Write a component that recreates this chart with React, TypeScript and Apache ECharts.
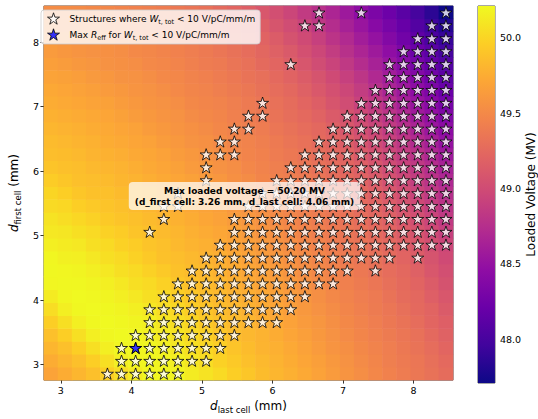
import React, { useEffect, useRef } from "react";
import * as echarts from "echarts";

// cell centres (mm)
const dLastCells = [2.86, 3.06, 3.26, 3.46, 3.66, 3.86, 4.06, 4.26, 4.46, 4.66, 4.86, 5.06, 5.26, 5.46, 5.66, 5.86, 6.06, 6.26, 6.46, 6.66, 6.86, 7.06, 7.26, 7.46, 7.66, 7.86, 8.06, 8.26, 8.46];
const dFirstCells = [2.86, 3.06, 3.26, 3.46, 3.66, 3.86, 4.06, 4.26, 4.46, 4.66, 4.86, 5.06, 5.26, 5.46, 5.66, 5.86, 6.06, 6.26, 6.46, 6.66, 6.86, 7.06, 7.26, 7.46, 7.66, 7.86, 8.06, 8.26, 8.46];

// loaded voltage (MV): one row per d_first cell (bottom to top), one column per d_last cell
const voltage: number[][] = [
  [49.69,49.75,49.81,49.87,49.96,50.05,50.13,50.19,50.19,50.18,50.13,50.08,50.03,49.96,49.91,49.85,49.81,49.77,49.73,49.68,49.63,49.58,49.53,49.48,49.44,49.40,49.36,49.32,49.27],
  [49.75,49.81,49.87,49.96,50.06,50.15,50.19,50.19,50.18,50.15,50.10,50.05,49.98,49.93,49.87,49.83,49.79,49.75,49.70,49.66,49.61,49.56,49.51,49.47,49.42,49.38,49.35,49.30,49.25],
  [49.81,49.87,49.96,50.06,50.15,50.19,50.20,50.19,50.16,50.11,50.06,50.01,49.96,49.90,49.85,49.80,49.77,49.73,49.68,49.63,49.58,49.54,49.49,49.45,49.41,49.37,49.33,49.28,49.22],
  [49.87,49.96,50.06,50.15,50.20,50.21,50.19,50.16,50.13,50.08,50.03,49.98,49.91,49.86,49.82,49.79,49.75,49.70,49.66,49.61,49.56,49.51,49.47,49.43,49.39,49.35,49.31,49.25,49.19],
  [49.96,50.06,50.15,50.20,50.21,50.20,50.18,50.15,50.10,50.05,50.00,49.93,49.88,49.84,49.81,49.76,49.72,49.68,49.63,49.59,49.54,49.49,49.45,49.41,49.37,49.33,49.28,49.22,49.17],
  [50.05,50.15,50.20,50.21,50.20,50.18,50.15,50.11,50.05,50.01,49.95,49.90,49.85,49.82,49.78,49.74,49.70,49.65,49.61,49.56,49.52,49.47,49.43,49.39,49.35,49.30,49.25,49.21,49.13],
  [50.13,50.19,50.21,50.20,50.18,50.15,50.11,50.06,50.03,49.96,49.91,49.86,49.83,49.79,49.76,49.72,49.67,49.63,49.59,49.54,49.49,49.45,49.41,49.38,49.33,49.27,49.24,49.17,49.10],
  [50.19,50.20,50.20,50.18,50.15,50.11,50.06,50.03,49.98,49.91,49.87,49.84,49.81,49.77,49.73,49.69,49.65,49.61,49.56,49.51,49.47,49.43,49.39,49.35,49.30,49.26,49.21,49.14,49.06],
  [50.20,50.19,50.18,50.15,50.11,50.06,50.03,49.98,49.93,49.88,49.85,49.82,49.78,49.74,49.71,49.67,49.63,49.58,49.53,49.49,49.45,49.41,49.37,49.32,49.28,49.24,49.18,49.10,49.03],
  [50.19,50.16,50.15,50.11,50.06,50.03,49.98,49.93,49.88,49.86,49.83,49.79,49.76,49.72,49.68,49.64,49.60,49.55,49.51,49.47,49.43,49.38,49.34,49.31,49.26,49.21,49.14,49.07,48.99],
  [50.15,50.13,50.11,50.06,50.03,49.98,49.95,49.90,49.87,49.83,49.80,49.77,49.73,49.69,49.66,49.62,49.57,49.53,49.48,49.45,49.40,49.36,49.33,49.28,49.24,49.18,49.11,49.03,48.95],
  [50.11,50.10,50.06,50.03,49.98,49.95,49.90,49.87,49.84,49.81,49.77,49.74,49.71,49.67,49.63,49.58,49.55,49.50,49.46,49.42,49.38,49.35,49.31,49.26,49.21,49.14,49.07,48.99,48.90],
  [50.08,50.05,50.01,49.98,49.93,49.90,49.87,49.84,49.81,49.78,49.75,49.71,49.68,49.64,49.60,49.56,49.51,49.47,49.44,49.40,49.36,49.33,49.28,49.23,49.18,49.10,49.03,48.94,48.85],
  [50.03,50.01,49.96,49.93,49.90,49.87,49.84,49.81,49.78,49.75,49.72,49.69,49.66,49.61,49.57,49.53,49.49,49.45,49.41,49.38,49.34,49.31,49.25,49.21,49.14,49.06,48.98,48.89,48.80],
  [50.00,49.96,49.91,49.88,49.87,49.84,49.81,49.79,49.76,49.73,49.70,49.66,49.62,49.59,49.54,49.50,49.46,49.42,49.40,49.36,49.32,49.27,49.23,49.17,49.10,49.02,48.93,48.84,48.75],
  [49.95,49.91,49.87,49.86,49.84,49.81,49.79,49.76,49.73,49.70,49.67,49.63,49.60,49.55,49.52,49.47,49.44,49.41,49.38,49.34,49.29,49.25,49.20,49.13,49.05,48.97,48.88,48.79,48.69],
  [49.90,49.87,49.86,49.83,49.81,49.79,49.76,49.73,49.70,49.67,49.63,49.60,49.56,49.53,49.48,49.45,49.42,49.39,49.35,49.31,49.27,49.22,49.17,49.09,49.00,48.92,48.84,48.74,48.64],
  [49.86,49.85,49.83,49.80,49.78,49.76,49.73,49.71,49.68,49.64,49.61,49.57,49.54,49.50,49.46,49.44,49.40,49.37,49.33,49.29,49.24,49.20,49.12,49.04,48.96,48.87,48.78,48.68,48.57],
  [49.84,49.82,49.80,49.78,49.75,49.73,49.70,49.68,49.64,49.61,49.57,49.55,49.51,49.47,49.45,49.42,49.38,49.34,49.31,49.26,49.21,49.15,49.07,48.99,48.91,48.82,48.72,48.62,48.50],
  [49.81,49.79,49.77,49.75,49.73,49.70,49.68,49.64,49.61,49.58,49.55,49.52,49.48,49.45,49.42,49.40,49.35,49.32,49.28,49.24,49.18,49.10,49.02,48.95,48.86,48.76,48.66,48.54,48.44],
  [49.78,49.76,49.74,49.72,49.70,49.67,49.64,49.61,49.58,49.56,49.52,49.49,49.47,49.43,49.40,49.37,49.33,49.29,49.25,49.20,49.13,49.06,48.98,48.89,48.80,48.70,48.58,48.48,48.36],
  [49.75,49.73,49.71,49.69,49.67,49.64,49.61,49.58,49.56,49.53,49.49,49.47,49.45,49.42,49.38,49.35,49.31,49.27,49.22,49.16,49.08,49.01,48.92,48.84,48.74,48.62,48.52,48.41,48.29],
  [49.72,49.70,49.68,49.66,49.63,49.61,49.58,49.56,49.53,49.50,49.47,49.45,49.42,49.39,49.36,49.32,49.28,49.24,49.18,49.11,49.04,48.96,48.87,48.77,48.66,48.56,48.45,48.34,48.21],
  [49.69,49.67,49.65,49.62,49.60,49.57,49.56,49.53,49.50,49.48,49.45,49.43,49.40,49.37,49.33,49.30,49.25,49.20,49.14,49.07,48.99,48.90,48.81,48.70,48.60,48.49,48.38,48.26,48.13],
  [49.66,49.64,49.61,49.59,49.56,49.55,49.53,49.50,49.48,49.46,49.43,49.40,49.38,49.34,49.31,49.26,49.22,49.16,49.09,49.01,48.93,48.84,48.74,48.64,48.53,48.42,48.30,48.18,48.07],
  [49.63,49.60,49.58,49.56,49.55,49.53,49.50,49.48,49.46,49.44,49.41,49.38,49.35,49.32,49.28,49.23,49.18,49.12,49.04,48.96,48.87,48.77,48.67,48.57,48.46,48.34,48.22,48.11,47.99],
  [49.59,49.57,49.55,49.54,49.52,49.50,49.48,49.46,49.44,49.41,49.39,49.36,49.33,49.28,49.24,49.20,49.14,49.06,48.99,48.90,48.80,48.71,48.60,48.50,48.38,48.26,48.15,48.03,47.91],
  [49.56,49.53,49.53,49.51,49.50,49.48,49.46,49.44,49.42,49.40,49.37,49.33,49.29,49.26,49.21,49.16,49.08,49.01,48.93,48.83,48.74,48.63,48.53,48.41,48.30,48.19,48.07,47.95,47.82],
  [49.52,49.52,49.51,49.49,49.48,49.46,49.44,49.42,49.40,49.37,49.34,49.31,49.26,49.22,49.17,49.10,49.03,48.95,48.86,48.77,48.67,48.56,48.45,48.33,48.23,48.11,47.99,47.86,47.71],
];

// structures with W_t,tot < 10 V/pC/mm/m: per d_first row, runs [firstCol, lastCol] of d_last column indices
const starRuns: number[][][] = [
  [[4, 9]],
  [[5, 11]],
  [[5, 12]],
  [[6, 13]],
  [[7, 16]],
  [[7, 17]],
  [[8, 18]],
  [[9, 20]],
  [[10, 21], [23, 23]],
  [[11, 24], [26, 26]],
  [[12, 28]],
  [[7, 7], [13, 28]],
  [[8, 8], [13, 28]],
  [[8, 9], [14, 28]],
  [[9, 9], [15, 28]],
  [[11, 11], [16, 28]],
  [[11, 11], [17, 28]],
  [[11, 13], [18, 28]],
  [[12, 13], [19, 28]],
  [[13, 14], [20, 28]],
  [[14, 15], [21, 28]],
  [[15, 15], [22, 28]],
  [[23, 28]],
  [[24, 28]],
  [[17, 17], [24, 28]],
  [[25, 28]],
  [[26, 28]],
  [[18, 19], [27, 28]],
  [[19, 19], [22, 22], [28, 28]],
];

// best structure (max R_eff among stars): [row (d_first), col (d_last)]
const bestCell = [2, 6];

const xTicks = [3, 4, 5, 6, 7, 8];
const yTicks = [3, 4, 5, 6, 7, 8];
const cbTicks = [48.0, 48.5, 49.0, 49.5, 50.0];

const PLASMA = ["#0d0887", "#41049d", "#6a00a8", "#8f0da4", "#b12a90", "#cc4778", "#e16462", "#f2844b", "#fca636", "#fcce25", "#f0f921"];

const STAR = "path://M50,0L61.2,34.5L97.6,34.5L68.2,55.9L79.4,90.5L50,69.1L20.6,90.5L31.8,55.9L2.4,34.5L38.8,34.5Z";
const FONT = "DejaVu Sans";
const LEG1 = "Structures where W_t,tot < 10 V/pC/mm/m";
const LEG2 = "Max R_eff for W_t,tot < 10 V/pC/mm/m";

const GRID = { left: 36, top: 6, width: 417, height: 377 };
const CB = { left: 478, top: 6, width: 19, height: 377 };

export default function App() {
  const ref = useRef<HTMLDivElement>(null);
  useEffect(() => {
    document.body.style.margin = "0";
    if (!ref.current) return;
    const chart = echarts.init(ref.current, null, { renderer: "svg" });

    const heat: number[][] = [];
    voltage.forEach((row, j) => row.forEach((v, i) => heat.push([dLastCells[i], dFirstCells[j], v])));
    let vmin = Infinity, vmax = -Infinity;
    heat.forEach((d) => { vmin = Math.min(vmin, d[2]); vmax = Math.max(vmax, d[2]); });

    const stars: number[][] = [];
    starRuns.forEach((runs, j) => runs.forEach(([a, b]) => {
      for (let i = a; i <= b; i++) stars.push([dLastCells[i], dFirstCells[j]]);
    }));
    const bx = dLastCells[bestCell[1]], by = dFirstCells[bestCell[0]];
    const bv = voltage[bestCell[0]][bestCell[1]];

    const stepX = dLastCells[1] - dLastCells[0];
    const stepY = dFirstCells[1] - dFirstCells[0];

    const rich = {
      sp: { width: 5, lineHeight: 13 },
      n: { fontFamily: FONT, fontSize: 9, lineHeight: 13, color: "#000" },
      i: { fontFamily: FONT, fontSize: 9, lineHeight: 13, fontStyle: "italic", color: "#000" },
      s: { fontFamily: FONT, fontSize: 6.5, lineHeight: 7, verticalAlign: "bottom", color: "#000" },
    };
    const axRich = {
      i: { fontFamily: FONT, fontSize: 12, lineHeight: 16, fontStyle: "italic", color: "#000" },
      s: { fontFamily: FONT, fontSize: 8.5, lineHeight: 9, verticalAlign: "bottom", color: "#000" },
      n: { fontFamily: FONT, fontSize: 12, lineHeight: 16, color: "#000" },
    };

    const stops = PLASMA.map((c, k) => ({ offset: 1 - k / (PLASMA.length - 1), color: c })).reverse();

    const tickStyle = { show: true, inside: false, length: 3.5, lineStyle: { color: "#000", width: 0.8 } };
    const starStyle = { color: "#ffffff", borderColor: "#000", borderWidth: 1 };
    const blueStyle = { color: "#0000ff", borderColor: "#000", borderWidth: 1 };

    chart.setOption({
      animation: false,
      textStyle: { fontFamily: FONT },
      grid: [
        { ...GRID, show: true, borderColor: "#222", borderWidth: 0.8, backgroundColor: "transparent", containLabel: false },
        { ...CB, show: true, borderColor: "#222", borderWidth: 0.8, backgroundColor: "transparent", containLabel: false },
      ],
      xAxis: [
        {
          type: "value", gridIndex: 0,
          min: dLastCells[0] - stepX / 2, max: dLastCells[dLastCells.length - 1] + stepX / 2,
          axisLine: { show: false }, splitLine: { show: false },
          axisTick: { ...tickStyle, customValues: xTicks },
          axisLabel: { customValues: xTicks, margin: 5, fontSize: 9.5, color: "#000", fontFamily: FONT },
          name: "{i|d}{s|last cell}{n| (mm)}", nameLocation: "middle", nameGap: 16,
          nameTextStyle: { rich: axRich },
        },
        { type: "value", gridIndex: 1, min: 0, max: 1, show: false },
      ],
      yAxis: [
        {
          type: "value", gridIndex: 0,
          min: dFirstCells[0] - stepY / 2, max: dFirstCells[dFirstCells.length - 1] + stepY / 2,
          axisLine: { show: false }, splitLine: { show: false },
          axisTick: { ...tickStyle, customValues: yTicks },
          axisLabel: { customValues: yTicks, margin: 5, fontSize: 9.5, color: "#000", fontFamily: FONT },
          name: "{i|d}{s|first cell}{n| (mm)}", nameLocation: "middle", nameGap: 17, nameRotate: 90,
          nameTextStyle: { rich: axRich },
        },
        {
          type: "value", gridIndex: 1, position: "right", min: vmin, max: vmax,
          axisLine: { show: false }, splitLine: { show: false },
          axisTick: { ...tickStyle, customValues: cbTicks },
          axisLabel: { customValues: cbTicks, margin: 5, fontSize: 9.5, color: "#000", fontFamily: FONT, formatter: (v: number) => v.toFixed(1) },
          name: "Loaded Voltage (MV)", nameLocation: "middle", nameGap: 25, nameRotate: 90,
          nameTextStyle: { fontFamily: FONT, fontSize: 12, color: "#000" },
        },
      ],
      visualMap: {
        type: "continuous", show: false, seriesIndex: 0, dimension: 2,
        min: vmin, max: vmax, inRange: { color: PLASMA },
      },
      legend: {
        left: 41, top: 10, orient: "vertical",
        itemWidth: 12, itemHeight: 12, itemGap: 3,
        padding: [2, 5, 3, 6],
        backgroundColor: "rgba(255,255,255,0.8)", borderColor: "#cccccc", borderWidth: 0.8, borderRadius: 3,
        symbolKeepAspect: true,
        data: [
          { name: LEG1, icon: STAR, itemStyle: starStyle },
          { name: LEG2, icon: STAR, itemStyle: blueStyle },
        ],
        formatter: (name: string) =>
          name === LEG1
            ? "{sp|}{n|Structures where }{i|W}{s|t, tot}{n| < 10 V/pC/mm/m}"
            : "{sp|}{n|Max }{i|R}{s|eff}{n| for }{i|W}{s|t, tot}{n| < 10 V/pC/mm/m}",
        textStyle: { rich, fontSize: 9, lineHeight: 13 },
      },
      graphic: [
        {
          type: "text", z: 100,
          x: GRID.left + GRID.width / 2, y: GRID.top + GRID.height / 2 + 1.5,
          style: {
            text: `Max loaded voltage = ${bv.toFixed(2)} MV\n(d_first cell: ${by.toFixed(2)} mm, d_last cell: ${bx.toFixed(2)} mm)`,
            font: `bold 9px "${FONT}"`, fill: "#000", align: "center", verticalAlign: "middle",
            lineHeight: 11, backgroundColor: "rgba(255,255,255,0.72)", padding: [3, 6, 3, 6], borderRadius: 4,
          },
        },
      ],
      series: [
        {
          type: "custom", xAxisIndex: 0, yAxisIndex: 0, z: 1,
          data: heat, encode: { x: 0, y: 1 },
          renderItem: (params: any, api: any) => {
            const x = api.value(0), y = api.value(1);
            const p1 = api.coord([x - stepX / 2, y + stepY / 2]);
            const p2 = api.coord([x + stepX / 2, y - stepY / 2]);
            const c = api.visual("color");
            return {
              type: "rect",
              shape: { x: p1[0] - 0.3, y: p1[1] - 0.3, width: p2[0] - p1[0] + 0.6, height: p2[1] - p1[1] + 0.6 },
              style: { fill: c, stroke: null },
            };
          },
        },
        {
          type: "custom", xAxisIndex: 1, yAxisIndex: 1, z: 1,
          data: [[0, vmin, 1, vmax]],
          renderItem: (params: any, api: any) => {
            const p1 = api.coord([api.value(0), api.value(3)]);
            const p2 = api.coord([api.value(2), api.value(1)]);
            return {
              type: "rect",
              shape: { x: p1[0], y: p1[1], width: p2[0] - p1[0], height: p2[1] - p1[1] },
              style: { fill: new echarts.graphic.LinearGradient(0, 0, 0, 1, stops) },
            };
          },
        },
        {
          name: LEG1, type: "scatter", xAxisIndex: 0, yAxisIndex: 0, z: 3,
          data: stars, symbol: STAR, symbolSize: 12, symbolKeepAspect: true,
          itemStyle: starStyle,
          emphasis: { disabled: true },
        },
        {
          name: LEG2, type: "scatter", xAxisIndex: 0, yAxisIndex: 0, z: 4,
          data: [[bx, by]], symbol: STAR, symbolSize: 12, symbolKeepAspect: true,
          itemStyle: blueStyle,
          emphasis: { disabled: true },
        },
      ],
    });
    return () => chart.dispose();
  }, []);
  return <div ref={ref} style={{ width: 538, height: 419 }} />;
}
